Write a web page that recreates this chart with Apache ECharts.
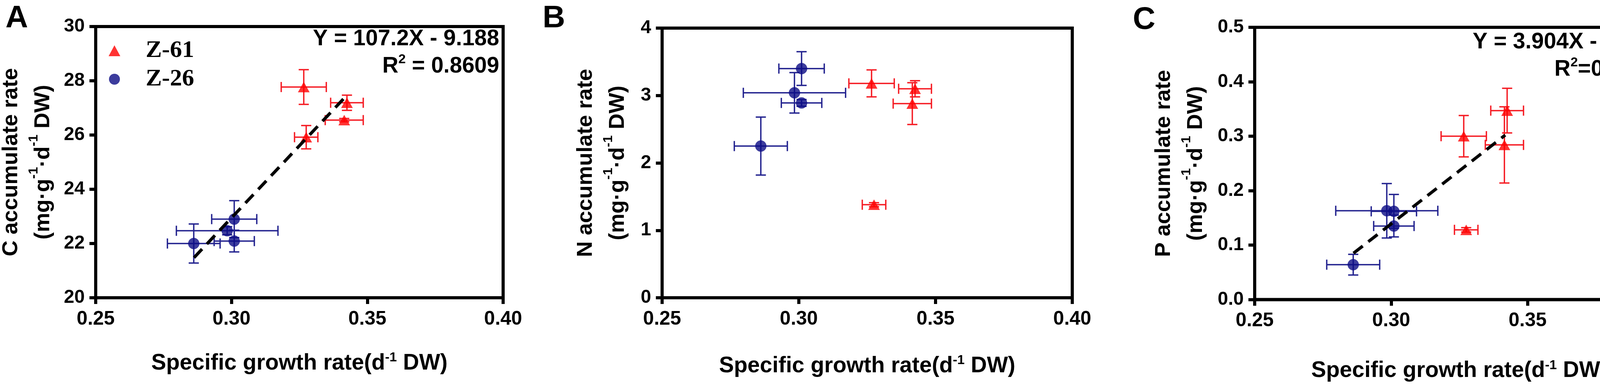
<!DOCTYPE html>
<html>
<head>
<meta charset="utf-8">
<script src="https://cdn.jsdelivr.net/npm/echarts@6/dist/echarts.min.js"></script>
<style>
  html, body { margin: 0; padding: 0; background: #fff; }
  #chart { width: 4317px; height: 984px; }
</style>
</head>
<body>
<div id="chart"></div>
<script>
// specific growth rate (x) of the two strains, shared by all three panels
var growthZ61 = [0.3266, 0.3425, 0.3415, 0.3275];
var growthSdZ61 = [0.0083, 0.0060, 0.0070, 0.0043];
var growthZ26 = [0.2861, 0.2984, 0.3010, 0.3010];
var growthSdZ26 = [0.0097, 0.0187, 0.0083, 0.0074];

// A - C accumulate rate
var carbonZ61 = [27.77, 27.19, 26.55, 25.92];
var carbonSdZ61 = [0.64, 0.28, 0.06, 0.43];
var carbonZ26 = [22.00, 22.47, 22.90, 22.09];
var carbonSdZ26 = [0.72, 0.15, 0.68, 0.40];
var carbonFit = [[0.2862, 21.48], [0.3428, 27.50]];

// B - N accumulate rate
var nitrogenZ61 = [3.18, 3.10, 2.88, 1.38];
var nitrogenSdZ61 = [0.20, 0.12, 0.31, 0.03];
var nitrogenZ26 = [2.25, 3.04, 3.40, 2.89];
var nitrogenSdZ26 = [0.43, 0.30, 0.25, 0.05];

// C - P accumulate rate
var phosZ61 = [0.300, 0.347, 0.284, 0.128];
var phosSdZ61 = [0.038, 0.041, 0.070, 0.004];
var phosZ26 = [0.064, 0.163, 0.162, 0.135];
var phosSdZ26 = [0.019, 0.050, 0.031, 0.020];
var phosFit = [[0.2862, 0.085], [0.3418, 0.302]];

// axis ranges [min, max, interval]
var xRange = [0.25, 0.40, 0.05];
var yRangeC = [20, 30, 2];
var yRangeN = [0, 4, 1];
var yRangeP = [0, 0.5, 0.1];

var seriesNames = ['Z-61', 'Z-26'];
var eqC = ['Y = 107.2X - 9.188', ' = 0.8609'];
var eqP = ['Y = 3.904X - 1.032', '=0.7012'];

var FONT = '"Liberation Sans", Arial, sans-serif';
var RED = '#ff0000', RED_BAR = '#f51c24';
var BLUE = '#0b0b84', BLUE_BAR = '#23238f';

var chart = echarts.init(document.getElementById('chart'));

function pts(xs, ys) {
  return xs.map(function (x, k) { return [x, ys[k]]; });
}
function errs(xs, xsd, ys, ysd) {
  return xs.map(function (x, k) { return [x, ys[k], xsd[k], ysd[k]]; });
}

function errorBars(params, api) {
  var x = api.value(0), y = api.value(1), ex = api.value(2), ey = api.value(3);
  var l = api.coord([x - ex, y]), r = api.coord([x + ex, y]);
  var t = api.coord([x, y + ey]), b = api.coord([x, y - ey]);
  var h = 13;
  var st = { stroke: api.visual('color'), lineWidth: 3.5 };
  function seg(x1, y1, x2, y2) {
    return { type: 'line', shape: { x1: x1, y1: y1, x2: x2, y2: y2 }, style: st };
  }
  return {
    type: 'group',
    children: [
      seg(l[0], l[1], r[0], r[1]),
      seg(l[0], l[1] - h, l[0], l[1] + h),
      seg(r[0], r[1] - h, r[0], r[1] + h),
      seg(t[0], t[1], b[0], b[1]),
      seg(t[0] - h, t[1], t[0] + h, t[1]),
      seg(b[0] - h, b[1], b[0] + h, b[1])
    ]
  };
}

var richBase = {
  t: { fontFamily: FONT, fontWeight: 'bold', fontSize: 56, color: '#000', lineHeight: 82 },
  s: { fontFamily: FONT, fontWeight: 'bold', fontSize: 34, color: '#000', lineHeight: 46, verticalAlign: 'top' }
};

function xAxisOf(i, gap) {
  return {
    type: 'value', gridIndex: i,
    min: xRange[0], max: xRange[1], interval: xRange[2],
    name: '{t|Specific growth rate(d}{s|-1}{t| DW)}',
    nameLocation: 'middle', nameGap: gap,
    nameTextStyle: { rich: {
      t: { fontFamily: FONT, fontWeight: 'bold', fontSize: 57, color: '#000', lineHeight: 62 },
      s: { fontFamily: FONT, fontWeight: 'bold', fontSize: 34, color: '#000', lineHeight: 40, verticalAlign: 'top' }
    } },
    axisLine: { show: true, onZero: false, lineStyle: { color: '#000', width: 8 } },
    axisTick: { show: true, length: 16, lineStyle: { color: '#000', width: 8 } },
    axisLabel: { formatter: function (v) { return v.toFixed(2); }, fontFamily: FONT, fontWeight: 'bold',
      fontSize: 50, color: '#000', margin: 30 },
    splitLine: { show: false }
  };
}

function yAxisOf(i, range, dec, title, gap) {
  return {
    type: 'value', gridIndex: i,
    min: range[0], max: range[1], interval: range[2],
    name: '{t|' + title + '}\n{t|(mg·g}{s|-1}{t|·d}{s|-1}{t| DW)}',
    nameLocation: 'middle', nameGap: gap, nameRotate: 90,
    nameTextStyle: { rich: richBase },
    axisLine: { show: true, onZero: false, lineStyle: { color: '#000', width: 8 } },
    axisTick: { show: true, length: 16, lineStyle: { color: '#000', width: 8 } },
    axisLabel: { formatter: function (v) { return v.toFixed(dec); }, fontFamily: FONT, fontWeight: 'bold',
      fontSize: 48, color: '#000', margin: 28 },
    splitLine: { show: false }
  };
}

function panelSeries(i, yZ61, sdZ61, yZ26, sdZ26, fit) {
  var list = [
    { type: 'custom', name: 'Z-61 SD', xAxisIndex: i, yAxisIndex: i, silent: true, z: 2,
      itemStyle: { color: RED_BAR }, encode: { x: 0, y: 1 },
      data: errs(growthZ61, growthSdZ61, yZ61, sdZ61), renderItem: errorBars },
    { type: 'custom', name: 'Z-26 SD', xAxisIndex: i, yAxisIndex: i, silent: true, z: 2,
      itemStyle: { color: BLUE_BAR }, encode: { x: 0, y: 1 },
      data: errs(growthZ26, growthSdZ26, yZ26, sdZ26), renderItem: errorBars },
    { type: 'scatter', name: seriesNames[0], xAxisIndex: i, yAxisIndex: i, z: 3,
      symbol: 'triangle', symbolSize: [30, 27], itemStyle: { color: RED },
      data: pts(growthZ61, yZ61) },
    { type: 'scatter', name: seriesNames[1], xAxisIndex: i, yAxisIndex: i, z: 3,
      symbol: 'circle', symbolSize: 29, itemStyle: { color: BLUE },
      data: pts(growthZ26, yZ26) }
  ];
  if (fit) {
    list.push({ type: 'line', name: 'fit', xAxisIndex: i, yAxisIndex: i, z: 4, silent: true,
      showSymbol: false, data: fit,
      lineStyle: { color: '#000', width: 8, type: [30, 18], cap: 'butt' } });
  }
  return list;
}

function eqText(lines, right, top) {
  return {
    type: 'text', right: right, top: top, z: 10,
    style: {
      text: '{t|' + lines[0] + '}\n{t|R}{s|2}{t|' + lines[1] + '}',
      align: 'right',
      rich: {
        t: { fontFamily: FONT, fontWeight: 'bold', fontSize: 57, fill: '#000', lineHeight: 70, align: 'right' },
        s: { fontFamily: FONT, fontWeight: 'bold', fontSize: 34, fill: '#000', lineHeight: 44,
          verticalAlign: 'top', align: 'right' }
      }
    }
  };
}

function letter(ch, left, top) {
  return { type: 'text', left: left, top: top,
    style: { text: ch, fontFamily: FONT, fontWeight: 'bold', fontSize: 80, fill: '#000' } };
}

var gridBase = { show: true, borderColor: '#000', borderWidth: 8, backgroundColor: 'transparent' };

var option = {
  animation: false,
  backgroundColor: '#fff',
  grid: [
    Object.assign({ left: 240, top: 68, width: 1048, height: 695 }, gridBase),
    Object.assign({ left: 1695, top: 72, width: 1050, height: 691 }, gridBase),
    Object.assign({ left: 3212, top: 70, width: 1048, height: 698 }, gridBase)
  ],
  xAxis: [xAxisOf(0, 137), xAxisOf(1, 144), xAxisOf(2, 152)],
  yAxis: [
    yAxisOf(0, yRangeC, 0, 'C accumulate rate', 93),
    yAxisOf(1, yRangeN, 0, 'N accumulate rate', 72),
    yAxisOf(2, yRangeP, 1, 'P accumulate rate', 109)
  ],
  legend: {
    data: [{ name: seriesNames[0], icon: 'triangle' }, { name: seriesNames[1], icon: 'circle' }],
    orient: 'vertical', left: 273, top: 94,
    itemWidth: 30, itemHeight: 28, itemGap: 11,
    formatter: '{gap| }{name}',
    textStyle: { fontFamily: '"Liberation Serif", "Times New Roman", serif', fontWeight: 'bold',
      fontSize: 62, lineHeight: 62, color: '#000',
      rich: { gap: { width: 60, fontSize: 20 } } }
  },
  graphic: [
    letter('A', 14, 8),
    letter('B', 1389, 8),
    letter('C', 2900, 12),
    eqText(eqC, 4317 - 1278, 72),
    eqText(eqP, 4317 - 4247, 80)
  ],
  series: [].concat(
    panelSeries(0, carbonZ61, carbonSdZ61, carbonZ26, carbonSdZ26, carbonFit),
    panelSeries(1, nitrogenZ61, nitrogenSdZ61, nitrogenZ26, nitrogenSdZ26, null),
    panelSeries(2, phosZ61, phosSdZ61, phosZ26, phosSdZ26, phosFit)
  )
};

chart.setOption(option);
</script>
</body>
</html>
